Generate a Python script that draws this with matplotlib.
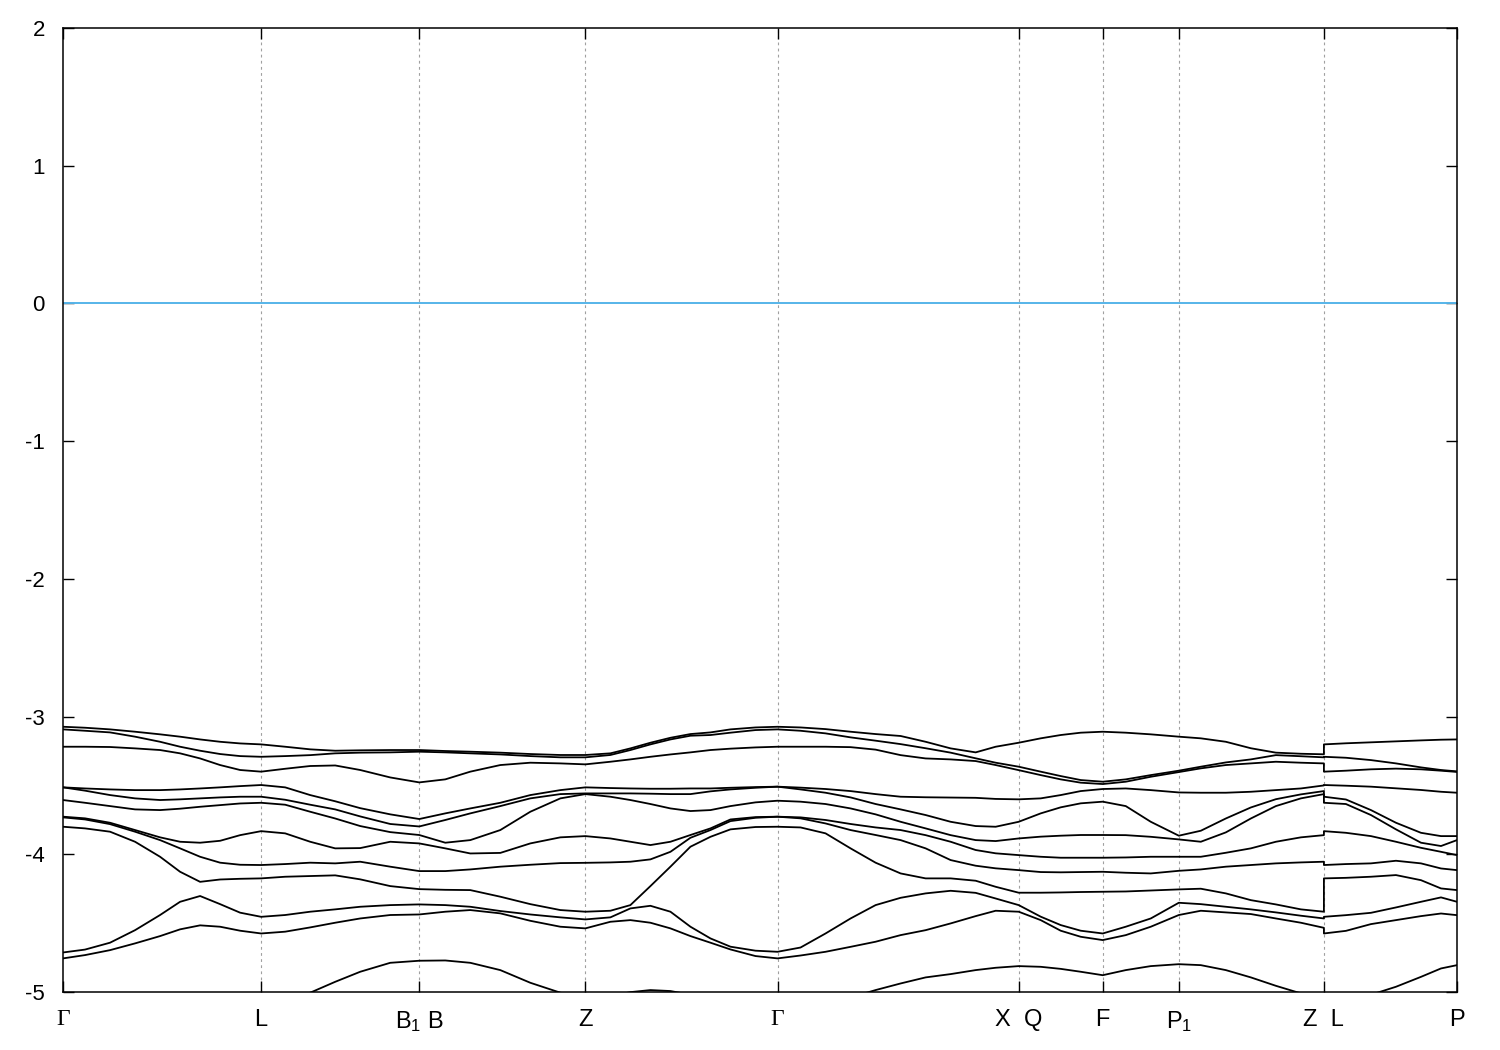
import numpy as np
import matplotlib.pyplot as plt

plt.rcParams['font.family'] = ['Liberation Sans', 'DejaVu Sans']
plt.rcParams['mathtext.fontset'] = 'custom'
plt.rcParams['mathtext.rm'] = 'Liberation Sans'
plt.rcParams['mathtext.it'] = 'Liberation Sans:italic'
plt.rcParams['axes.unicode_minus'] = False

# k-path (Z|L is a jump, so 12.60 appears twice)
k_path = [0.00, 0.22, 0.47, 0.72, 0.97, 1.17, 1.37, 1.57, 1.77, 1.98,
          2.22, 2.47, 2.72, 2.97, 3.27, 3.56,
          3.82, 4.07, 4.37, 4.67, 4.97, 5.22,
          5.47, 5.67, 5.87, 6.07, 6.27, 6.47, 6.67, 6.92, 7.14,
          7.37, 7.62, 7.87, 8.12, 8.37, 8.62, 8.87, 9.12, 9.32, 9.55,
          9.77, 9.97, 10.17, 10.39,
          10.62, 10.87, 11.15,
          11.37, 11.62, 11.87, 12.12, 12.37, 12.60,
          12.60, 12.82, 13.07, 13.32, 13.57, 13.77, 13.93]

sym_k = [0.00, 1.98, 3.56, 5.22, 7.14, 9.55, 10.39, 11.15, 12.60, 13.93]
sym_labels = ['Γ', 'L', 'B$_1$ B', 'Z', 'Γ', 'X  Q', 'F', 'P$_1$', 'Z  L', 'P']

# band energies (eV) along k_path
band_01 = [-3.074, -3.081, -3.093, -3.110, -3.129, -3.146, -3.166, -3.183, -3.195, -3.202,
           -3.219, -3.238, -3.248, -3.245, -3.243, -3.243,
           -3.250, -3.255, -3.262, -3.272, -3.279, -3.279,
           -3.267, -3.231, -3.190, -3.154, -3.127, -3.115, -3.093, -3.079, -3.074,
           -3.079, -3.091, -3.110, -3.127, -3.141, -3.183, -3.231, -3.260, -3.219, -3.190,
           -3.158, -3.134, -3.117, -3.110,
           -3.117, -3.129, -3.146,
           -3.158, -3.183, -3.230, -3.262, -3.270, -3.274,
           -3.202, -3.194, -3.187, -3.180, -3.173, -3.168, -3.166]
band_02 = [-3.093, -3.103, -3.115, -3.146, -3.183, -3.219, -3.248, -3.272, -3.287, -3.292,
           -3.287, -3.280, -3.267, -3.262, -3.260, -3.255,
           -3.260, -3.267, -3.275, -3.287, -3.296, -3.296,
           -3.279, -3.243, -3.202, -3.166, -3.139, -3.134, -3.117, -3.098, -3.093,
           -3.103, -3.122, -3.151, -3.175, -3.200, -3.230, -3.262, -3.303, -3.335, -3.364,
           -3.400, -3.432, -3.461, -3.473,
           -3.456, -3.425, -3.393,
           -3.364, -3.333, -3.311, -3.280, -3.288, -3.296,
           -3.292, -3.299, -3.316, -3.340, -3.369, -3.388, -3.398]
band_03 = [-3.219, -3.219, -3.221, -3.231, -3.243, -3.267, -3.304, -3.352, -3.388, -3.400,
           -3.379, -3.359, -3.355, -3.388, -3.442, -3.478,
           -3.456, -3.400, -3.352, -3.335, -3.340, -3.347,
           -3.328, -3.311, -3.292, -3.275, -3.260, -3.243, -3.233, -3.224, -3.219,
           -3.219, -3.219, -3.222, -3.240, -3.280, -3.304, -3.311, -3.323, -3.352, -3.389,
           -3.425, -3.456, -3.480, -3.490,
           -3.473, -3.437, -3.403,
           -3.376, -3.352, -3.340, -3.328, -3.335, -3.340,
           -3.400, -3.393, -3.383, -3.378, -3.383, -3.393, -3.402]
band_04 = [-3.514, -3.522, -3.529, -3.534, -3.534, -3.529, -3.522, -3.514, -3.505, -3.497,
           -3.514, -3.570, -3.615, -3.665, -3.710, -3.744,
           -3.703, -3.667, -3.626, -3.570, -3.534, -3.514,
           -3.519, -3.522, -3.524, -3.524, -3.522, -3.522, -3.517, -3.512, -3.509,
           -3.516, -3.526, -3.541, -3.563, -3.582, -3.586, -3.588, -3.590, -3.598, -3.601,
           -3.594, -3.570, -3.541, -3.526,
           -3.522, -3.534, -3.551,
           -3.553, -3.553, -3.546, -3.534, -3.522, -3.500,
           -3.497, -3.502, -3.509, -3.521, -3.533, -3.546, -3.553]
band_05 = [-3.514, -3.538, -3.570, -3.594, -3.606, -3.601, -3.594, -3.587, -3.582, -3.582,
           -3.604, -3.640, -3.674, -3.725, -3.780, -3.798,
           -3.751, -3.703, -3.650, -3.594, -3.563, -3.558,
           -3.558, -3.558, -3.560, -3.563, -3.563, -3.543, -3.529, -3.517, -3.509,
           -3.529, -3.553, -3.587, -3.635, -3.674, -3.715, -3.764, -3.795, -3.800, -3.764,
           -3.703, -3.659, -3.630, -3.618,
           -3.650, -3.764, -3.865,
           -3.829, -3.740, -3.660, -3.600, -3.565, -3.541,
           -3.582, -3.602, -3.679, -3.771, -3.844, -3.868, -3.868]
band_06 = [-3.606, -3.626, -3.650, -3.674, -3.679, -3.669, -3.655, -3.643, -3.631, -3.626,
           -3.640, -3.691, -3.740, -3.795, -3.839, -3.860,
           -3.916, -3.897, -3.824, -3.691, -3.594, -3.563,
           -3.582, -3.606, -3.635, -3.667, -3.686, -3.679, -3.650, -3.623, -3.611,
           -3.618, -3.635, -3.667, -3.710, -3.764, -3.812, -3.861, -3.897, -3.904, -3.885,
           -3.872, -3.865, -3.860, -3.860,
           -3.861, -3.873, -3.892,
           -3.909, -3.841, -3.740, -3.650, -3.594, -3.563,
           -3.626, -3.635, -3.715, -3.819, -3.916, -3.940, -3.897]
band_07 = [-3.727, -3.739, -3.771, -3.824, -3.877, -3.909, -3.916, -3.902, -3.861, -3.832,
           -3.848, -3.909, -3.957, -3.955, -3.909, -3.921,
           -3.957, -3.994, -3.990, -3.921, -3.877, -3.868,
           -3.885, -3.909, -3.933, -3.909, -3.860, -3.812, -3.747, -3.730, -3.727,
           -3.732, -3.751, -3.780, -3.805, -3.824, -3.861, -3.909, -3.969, -3.993, -4.006,
           -4.018, -4.025, -4.025, -4.025,
           -4.023, -4.018, -4.018,
           -4.018, -3.989, -3.957, -3.909, -3.877, -3.861,
           -3.832, -3.844, -3.868, -3.909, -3.953, -3.982, -4.006]
band_08 = [-3.732, -3.747, -3.781, -3.836, -3.897, -3.957, -4.018, -4.061, -4.076, -4.078,
           -4.071, -4.061, -4.066, -4.054, -4.090, -4.122,
           -4.122, -4.110, -4.090, -4.076, -4.064, -4.062,
           -4.059, -4.054, -4.037, -3.982, -3.880, -3.824, -3.759, -3.735, -3.727,
           -3.739, -3.776, -3.824, -3.860, -3.897, -3.957, -4.042, -4.083, -4.102, -4.115,
           -4.129, -4.131, -4.129, -4.127,
           -4.134, -4.139, -4.120,
           -4.110, -4.090, -4.078, -4.066, -4.059, -4.054,
           -4.078, -4.071, -4.066, -4.047, -4.066, -4.103, -4.115]
band_09 = [-3.800, -3.812, -3.836, -3.909, -4.018, -4.127, -4.200, -4.183, -4.178, -4.175,
           -4.163, -4.158, -4.153, -4.182, -4.231, -4.253,
           -4.258, -4.260, -4.308, -4.362, -4.405, -4.417,
           -4.410, -4.369, -4.231, -4.090, -3.945, -3.873, -3.819, -3.802, -3.800,
           -3.805, -3.848, -3.957, -4.061, -4.139, -4.175, -4.175, -4.192, -4.236, -4.279,
           -4.279, -4.277, -4.274, -4.272,
           -4.270, -4.263, -4.255,
           -4.250, -4.284, -4.333, -4.364, -4.400, -4.417,
           -4.175, -4.171, -4.163, -4.151, -4.188, -4.248, -4.260]
band_10 = [-4.713, -4.692, -4.642, -4.551, -4.441, -4.345, -4.303, -4.362, -4.424, -4.454,
           -4.441, -4.417, -4.400, -4.381, -4.369, -4.364,
           -4.369, -4.381, -4.412, -4.437, -4.458, -4.473,
           -4.458, -4.393, -4.374, -4.417, -4.526, -4.611, -4.671, -4.700, -4.708,
           -4.677, -4.575, -4.466, -4.369, -4.316, -4.284, -4.265, -4.280, -4.321, -4.369,
           -4.453, -4.514, -4.555, -4.575,
           -4.526, -4.466, -4.352,
           -4.362, -4.381, -4.400, -4.422, -4.446, -4.466,
           -4.454, -4.442, -4.425, -4.386, -4.345, -4.313, -4.345]
band_11 = [-4.756, -4.732, -4.696, -4.647, -4.594, -4.545, -4.516, -4.526, -4.555, -4.575,
           -4.562, -4.531, -4.497, -4.466, -4.441, -4.437,
           -4.417, -4.405, -4.429, -4.483, -4.526, -4.538,
           -4.490, -4.478, -4.497, -4.538, -4.594, -4.642, -4.691, -4.739, -4.756,
           -4.735, -4.708, -4.672, -4.635, -4.587, -4.551, -4.502, -4.449, -4.410, -4.417,
           -4.478, -4.555, -4.599, -4.623,
           -4.587, -4.526, -4.441,
           -4.410, -4.422, -4.434, -4.466, -4.497, -4.534,
           -4.575, -4.556, -4.507, -4.478, -4.449, -4.430, -4.442]
band_12 = [-5.40, -5.40, -5.38, -5.35, -5.32, -5.28, -5.24, -5.20, -5.16, -5.12,
           -5.06, -5.005, -4.926, -4.853, -4.788, -4.773,
           -4.771, -4.788, -4.841, -4.933, -5.005, -5.04,
           -5.03, -5.001, -4.986, -4.993, -5.02, -5.06, -5.10, -5.13, -5.15,
           -5.12, -5.08, -5.04, -4.986, -4.938, -4.894, -4.870, -4.841, -4.824, -4.812,
           -4.817, -4.832, -4.853, -4.878,
           -4.841, -4.812, -4.798,
           -4.805, -4.841, -4.894, -4.955, -5.01, -5.05,
           -5.12, -5.07, -5.02, -4.962, -4.890, -4.829, -4.805]

bands = [band_01, band_02, band_03, band_04, band_05, band_06,
         band_07, band_08, band_09, band_10, band_11, band_12]

fig = plt.figure(figsize=(15, 10.5), dpi=100)
ax = fig.add_axes([63 / 1500, 1 - 992 / 1050, (1457 - 63) / 1500, (992 - 28) / 1050])

for kx in sym_k[1:-1]:
    ax.axvline(kx, color='#a0a0a0', lw=0.8, ls=(0, (2.5, 3)), zorder=1)

ax.axhline(0.0, color='#56b4e9', lw=1.4, zorder=2)

for b in bands:
    ax.plot(k_path, b, color='black', lw=1.3, zorder=3)

ax.set_xlim(sym_k[0], sym_k[-1])
ax.set_ylim(-5, 2)
ax.set_yticks(np.arange(-5, 3, 1))
ax.set_xticks(sym_k)
ax.set_xticklabels(sym_labels)
for lab in ax.get_xticklabels():
    if lab.get_text() == 'Γ':
        lab.set_fontfamily('Liberation Serif')
        lab.set_fontsize(19)

ax.tick_params(axis='both', direction='in', length=8, width=1.0,
               top=True, right=True)
ax.tick_params(axis='x', pad=12, labelsize=17)
ax.tick_params(axis='y', pad=13, labelsize=16)
for s in ax.spines.values():
    s.set_linewidth(1.1)

plt.savefig('out.png', dpi=100)
